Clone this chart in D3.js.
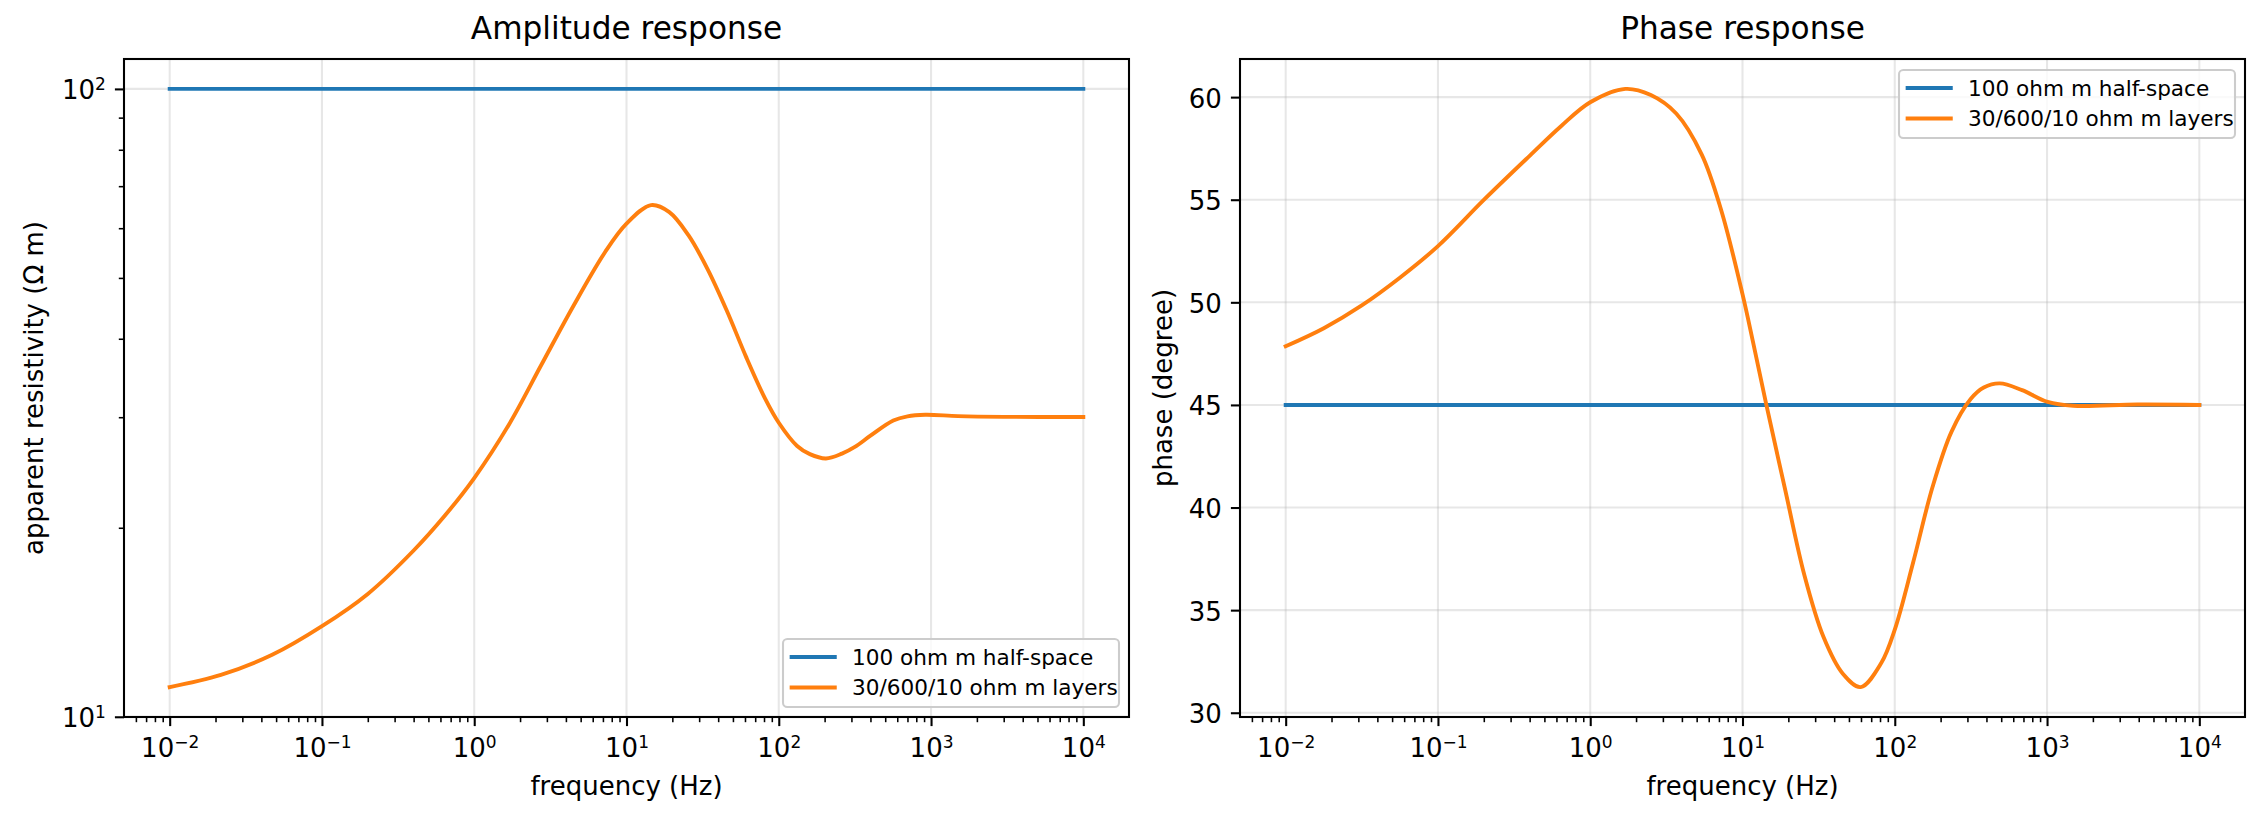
<!DOCTYPE html>
<html><head><meta charset="utf-8">
<script src="https://cdn.jsdelivr.net/npm/d3@7"></script>
<style>body{margin:0;background:#fff}svg{display:block}</style>
</head><body><svg id="c" width="2264" height="820"></svg>
<script>
// ---------- data ----------
const freqAmp = [0.01, 0.0217, 0.0471, 0.1, 0.2, 0.4, 0.64, 1.0, 1.7, 2.75, 4.46, 7.24, 10, 14.5, 19.1, 25.5, 34.0, 45.6, 61.0, 81.5, 100, 132, 160, 204, 260, 316, 400, 565, 700, 916, 1500, 3000, 10000];
const rhoLayered = [11.15, 11.66, 12.55, 13.94, 15.69, 18.4, 20.9, 24.0, 29.27, 36.29, 45.03, 54.98, 61.0, 65.3, 63.65, 58.48, 51.7, 44.33, 37.43, 32.09, 29.4, 27.0, 26.2, 25.79, 26.25, 26.9, 28.03, 29.63, 30.1, 30.27, 30.12, 30.04, 30.03];
const rhoHalfSpace = [100, 100];
const freqPhase = [0.01, 0.0178, 0.0316, 0.0562, 0.1, 0.2, 0.4, 0.64, 1.0, 1.7, 2.5, 3.67, 5.4, 7.24, 10, 11.7, 14.3, 19.1, 25.5, 34.0, 45.6, 59.7, 81.5, 100, 132, 177, 236, 316, 384, 489, 686, 1009, 1486, 3917, 10000];
const phaseLayered = [47.86, 48.74, 49.85, 51.2, 52.74, 54.99, 57.14, 58.57, 59.75, 60.4, 60.1, 59.2, 57.2, 54.5, 50.4, 48.1, 45.05, 40.84, 36.7, 33.7, 31.9, 31.25, 32.42, 34.05, 37.32, 41.0, 43.7, 45.3, 45.85, 46.05, 45.72, 45.15, 44.96, 45.02, 45.0];
const phaseHalfSpace = [45, 45];
const freqEnds = [0.01, 10000];
const xTickValues = [1e-2, 1e-1, 1e0, 1e1, 1e2, 1e3, 1e4];
const ampTickValues = [10, 100];
const phaseTickValues = [30, 35, 40, 45, 50, 55, 60];
const seriesNames = ["100 ohm m half-space", "30/600/10 ohm m layers"];
const seriesColors = ["#1f77b4", "#ff7f0e"];
const panelTitles = ["Amplitude response", "Phase response"];
const xLabel = "frequency (Hz)";
const yLabels = ["apparent resistivity (\u03A9 m)", "phase (degree)"];

// ---------- layout ----------
const FONT = "DejaVu Sans";
const yTop = 59, yBottom = 717;
const panels = [{x0: 124, x1: 1129}, {x0: 1240, x1: 2245}];
const svg = d3.select("#c");
const defs = svg.append("defs");

function logPad(ext) {
  const a = Math.log10(ext[0]), b = Math.log10(ext[1]), p = (b - a) * 0.05;
  return [Math.pow(10, a - p), Math.pow(10, b + p)];
}
function linPad(ext) { const p = (ext[1] - ext[0]) * 0.05; return [ext[0] - p, ext[1] + p]; }
function minorLog(domain) {
  const out = [];
  for (let k = Math.floor(Math.log10(domain[0])); k <= Math.ceil(Math.log10(domain[1])); k++)
    for (let m = 2; m <= 9; m++) { const v = m * Math.pow(10, k); if (v >= domain[0] && v <= domain[1]) out.push(v); }
  return out;
}
function supText(sel) {
  sel.each(function(d) {
    const t = d3.select(this); const e = Math.round(Math.log10(d));
    t.text(null);
    t.append("tspan").text("10");
    t.append("tspan").attr("dy", -9.5).attr("font-size", 17).text(e < 0 ? "\u2212" + (-e) : String(e));
  });
}

function drawPanel(i, cfg) {
  const P = panels[i];
  const g = svg.append("g");
  const x = d3.scaleLog().domain(logPad(d3.extent(freqEnds))).range([P.x0, P.x1]);
  const y = cfg.yScale.range([yBottom, yTop]);

  // grid
  const grid = g.append("g").attr("stroke", "#b0b0b0").attr("stroke-opacity", 0.3).attr("stroke-width", 2.08);
  grid.selectAll(".gx").data(xTickValues).join("line").attr("x1", d => x(d)).attr("x2", d => x(d)).attr("y1", yTop).attr("y2", yBottom);
  grid.selectAll(".gy").data(cfg.yTicks).join("line").attr("y1", d => y(d)).attr("y2", d => y(d)).attr("x1", P.x0).attr("x2", P.x1);

  // lines
  defs.append("clipPath").attr("id", "clip" + i).append("rect").attr("x", P.x0).attr("y", yTop).attr("width", P.x1 - P.x0).attr("height", yBottom - yTop);
  const lg = g.append("g").attr("clip-path", "url(#clip" + i + ")");
  const line = d3.line().x(d => x(d[0])).y(d => y(d[1])).curve(d3.curveCatmullRom.alpha(0.5));
  cfg.series.forEach((s, j) => {
    lg.append("path").datum(d3.zip(s.f, s.v)).attr("d", line).attr("fill", "none")
      .attr("stroke", seriesColors[j]).attr("stroke-width", 3.9).attr("stroke-linecap", "square").attr("stroke-linejoin", "round");
  });

  // axes
  const ax = g.append("g").attr("transform", `translate(0,${yBottom})`)
    .call(d3.axisBottom(x).tickValues(xTickValues).tickSize(9.1).tickPadding(9.1));
  ax.selectAll("text").attr("font-size", 26).attr("dy", null).attr("y", 40.3).call(supText);
  const axm = g.append("g").attr("transform", `translate(0,${yBottom})`)
    .call(d3.axisBottom(x).tickValues(minorLog(x.domain())).tickSize(5.2).tickFormat(""));
  axm.selectAll("line").attr("stroke-width", 1.56);

  const ay = g.append("g").attr("transform", `translate(${P.x0},0)`)
    .call(d3.axisLeft(y).tickValues(cfg.yTicks).tickSize(9.1).tickPadding(9.1).tickFormat(cfg.log ? null : d3.format("d")));
  ay.selectAll("text").attr("font-size", 26).attr("dy", null).attr("y", 10).attr("x", -18.2);
  if (cfg.log) {
    ay.selectAll("text").call(supText);
    const aym = g.append("g").attr("transform", `translate(${P.x0},0)`)
      .call(d3.axisLeft(y).tickValues(minorLog(y.domain())).tickSize(5.2).tickFormat(""));
    aym.selectAll("line").attr("stroke-width", 1.56).attr("stroke", "#000");
    aym.select(".domain").remove();
  }
  [ax, axm, ay].forEach(a => { a.select(".domain").remove(); a.selectAll("line").attr("stroke", "#000"); a.attr("font-family", FONT); a.selectAll("text").attr("fill", "#000"); });
  ax.selectAll("line").attr("stroke-width", 2.08);
  ay.selectAll("line").attr("stroke-width", 2.08);

  // frame
  g.append("rect").attr("x", P.x0).attr("y", yTop).attr("width", P.x1 - P.x0).attr("height", yBottom - yTop)
    .attr("fill", "none").attr("stroke", "#000").attr("stroke-width", 2.08);

  // texts
  const cx = (P.x0 + P.x1) / 2;
  g.append("text").attr("x", cx).attr("y", 39).attr("text-anchor", "middle").attr("font-family", FONT).attr("font-size", 31.2).text(panelTitles[i]);
  g.append("text").attr("x", cx).attr("y", 795).attr("text-anchor", "middle").attr("font-family", FONT).attr("font-size", 26).text(xLabel);
  g.append("text").attr("transform", `translate(${cfg.ylabelX},${(yTop + yBottom) / 2}) rotate(-90)`).attr("text-anchor", "middle")
    .attr("font-family", FONT).attr("font-size", 26).text(yLabels[i]);

  // legend
  const L = cfg.legend;
  const leg = g.append("g").attr("transform", `translate(${L.x},${L.y})`);
  leg.append("rect").attr("width", 336).attr("height", 68).attr("rx", 4.3).attr("fill", "#fff").attr("fill-opacity", 0.8)
    .attr("stroke", "#cccccc").attr("stroke-width", 2.08);
  seriesNames.forEach((n, j) => {
    const ry = 18 + j * 30.5;
    leg.append("line").attr("x1", 8.6).attr("x2", 51.8).attr("y1", ry).attr("y2", ry).attr("stroke", seriesColors[j]).attr("stroke-width", 3.9).attr("stroke-linecap", "square");
    leg.append("text").attr("x", 69).attr("y", ry + 7.6).attr("font-family", FONT).attr("font-size", 21.6).text(n);
  });
}

drawPanel(0, {
  yScale: d3.scaleLog().domain(logPad(d3.extent(rhoLayered.concat(rhoHalfSpace)))),
  yTicks: ampTickValues, log: true, ylabelX: 43,
  series: [{f: freqEnds, v: rhoHalfSpace}, {f: freqAmp, v: rhoLayered}],
  legend: {x: 783, y: 639}
});
drawPanel(1, {
  yScale: d3.scaleLinear().domain(linPad(d3.extent(phaseLayered.concat(phaseHalfSpace)))),
  yTicks: phaseTickValues, log: false, ylabelX: 1172,
  series: [{f: freqEnds, v: phaseHalfSpace}, {f: freqPhase, v: phaseLayered}],
  legend: {x: 1899, y: 70}
});
</script></body></html>
